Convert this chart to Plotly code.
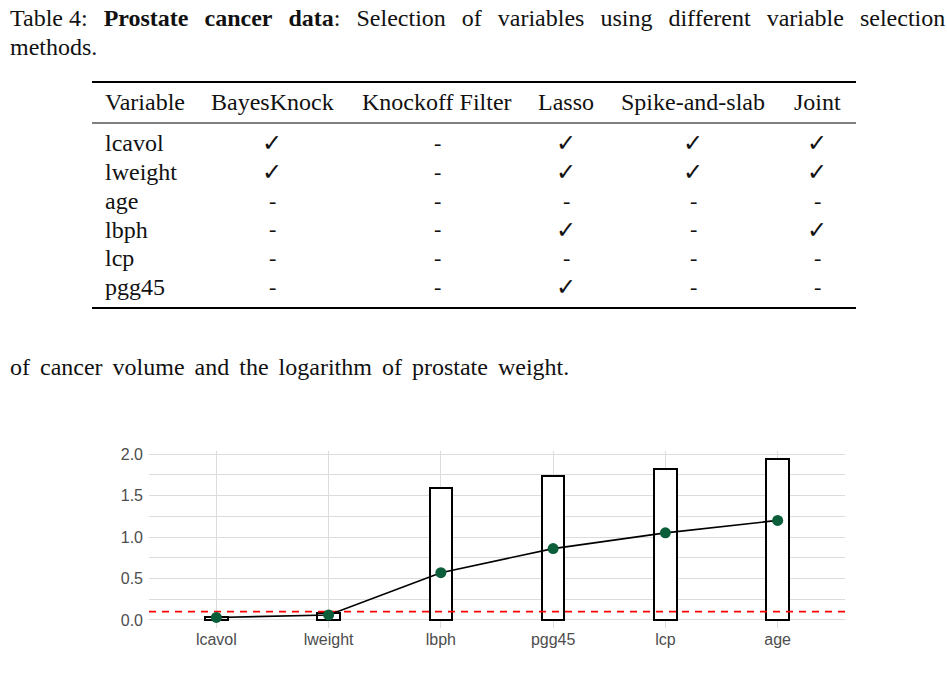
import plotly.graph_objects as go

# ---------------- data ----------------
caption_label = "Table 4:"
caption_bold = "Prostate cancer data"
caption_rest = "Selection of variables using different variable selection"
caption_line2 = "methods."
table_vars = ["lcavol", "lweight", "age", "lbph", "lcp", "pgg45"]
methods = ["BayesKnock", "Knockoff Filter", "Lasso", "Spike-and-slab", "Joint"]
bayesknock_sel = [1, 1, 0, 0, 0, 0]
knockoff_sel = [0, 0, 0, 0, 0, 0]
lasso_sel = [1, 1, 0, 1, 0, 1]
spike_sel = [1, 1, 0, 0, 0, 0]
joint_sel = [1, 1, 0, 1, 0, 0]
paragraph = "of cancer volume and the logarithm of prostate weight."

variables = ["lcavol", "lweight", "lbph", "pgg45", "lcp", "age"]
box_heights = [0.04, 0.08, 1.59, 1.74, 1.82, 1.94]
point_values = [0.03, 0.06, 0.57, 0.86, 1.05, 1.20]
threshold = 0.1
y_ticks = [0.0, 0.5, 1.0, 1.5, 2.0]

# ---------------- layout helpers ----------------
W, H = 947, 699
PL, PR, PT, PB = 149, 845, 451, 628  # plot area in pixels


def px(x):
    return (x - PL) / (PR - PL)


def py(y):
    return (PB - y) / (PB - PT)


SERIF = "Liberation Serif, Times New Roman, serif"
SANS = "Liberation Sans, Arial, sans-serif"
TXT = "#111111"
FS = 24

fig = go.Figure()

idx = list(range(len(variables)))
fig.add_trace(go.Bar(
    x=idx, y=box_heights, width=0.2,
    marker=dict(color="white", line=dict(color="black", width=2)),
    hoverinfo="skip", showlegend=False,
))
xmin, xmax = -0.6, len(variables) - 1 + 0.6
fig.add_trace(go.Scatter(
    x=[xmin, xmax], y=[threshold, threshold], mode="lines",
    line=dict(color="#ff0000", width=1.6, dash="7px,6px"),
    hoverinfo="skip", showlegend=False,
))
fig.add_trace(go.Scatter(
    x=idx, y=point_values, mode="lines+markers",
    line=dict(color="black", width=1.6),
    marker=dict(color="#0b5e3a", size=11),
    hoverinfo="skip", showlegend=False,
))

ymax_data = max(box_heights)
pad = 0.05 * ymax_data
fig.update_xaxes(
    range=[xmin, xmax], tickvals=idx, ticktext=variables,
    showgrid=True, gridcolor="#dcdcdc", gridwidth=1, zeroline=False,
    showline=False, ticks="", tickfont=dict(family=SANS, size=16, color="#4d4d4d"),
)
fig.update_yaxes(
    range=[-pad, ymax_data + pad], tickvals=y_ticks, tickformat=".1f",
    showgrid=True, gridcolor="#dcdcdc", gridwidth=1, zeroline=False,
    minor=dict(dtick=0.25, showgrid=True, gridcolor="#dcdcdc", gridwidth=1),
    showline=False, ticks="", ticklabelstandoff=5,
    tickfont=dict(family=SANS, size=16, color="#4d4d4d"),
)

annotations = []
shapes = []


def text(x, y, s, size=FS, anchor="left", family=SERIF, color=TXT):
    annotations.append(dict(
        x=px(x), y=py(y), xref="paper", yref="paper", text=s, showarrow=False,
        xanchor=anchor, yanchor="middle", font=dict(family=family, size=size, color=color),
    ))


def hrule(y, x0, x1, w):
    shapes.append(dict(type="line", xref="paper", yref="paper",
                       x0=px(x0), x1=px(x1), y0=py(y), y1=py(y),
                       line=dict(color="black", width=w)))


# caption (justified line: widened inter-word gaps)
GAP = "&nbsp;&nbsp;\u200a\u200a"
cap1 = GAP.join([caption_label, "<b>" + caption_bold.replace(" ", GAP) + "</b>:"]
                + caption_rest.split(" "))
text(8, 18, cap1)
text(8, 47, caption_line2)

# table
hrule(82, 92, 856, 2)
hrule(123, 92, 856, 1)
hrule(308, 92, 856, 2)
label_x = 103
col_x = [272, 437, 566, 693, 817]
header_y = 102
row_y = [143, 172, 201, 230, 258, 287]
text(label_x, header_y, "Variable")
for cx, m in zip(col_x, methods):
    text(cx, header_y, m, anchor="center")
sels = [bayesknock_sel, knockoff_sel, lasso_sel, spike_sel, joint_sel]
for r, v in enumerate(table_vars):
    text(label_x, row_y[r], v)
    for cx, sel in zip(col_x, sels):
        if sel[r]:
            text(cx, row_y[r], "✓", anchor="center", size=24, family="DejaVu Sans")
        else:
            text(cx, row_y[r] - 1, "-", anchor="center", size=22)

# paragraph
text(8, 367, paragraph.replace(" ", " \u200a\u200a"))

fig.update_layout(
    width=W, height=H,
    margin=dict(l=PL, r=W - PR, t=PT, b=H - PB, pad=0),
    plot_bgcolor="white", paper_bgcolor="white",
    annotations=annotations, shapes=shapes, showlegend=False,
    bargap=0,
)

fig.write_html("out.html")
